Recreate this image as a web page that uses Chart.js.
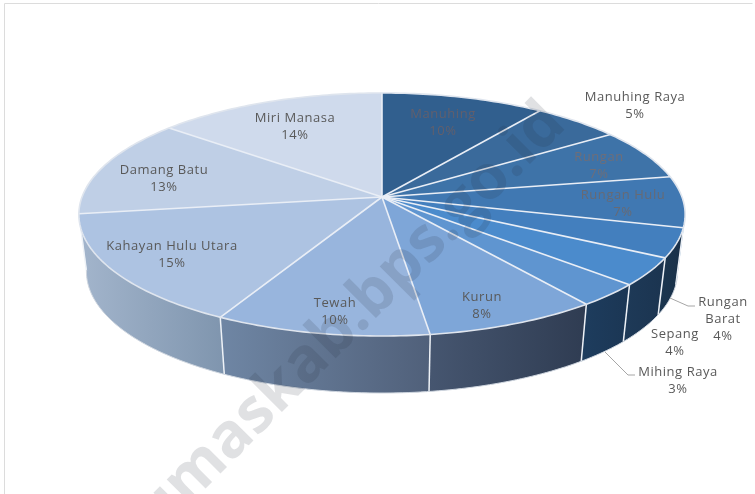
<!DOCTYPE html>
<html>
<head>
<meta charset="utf-8">
<script src="https://cdn.jsdelivr.net/npm/chart.js@4"></script>
<style>
  html, body { margin: 0; padding: 0; background: #fff; }
  canvas { display: block; }
</style>
</head>
<body>
<canvas id="chart" width="755" height="494"></canvas>
<script>
const categories = ["Manuhing", "Manuhing Raya", "Rungan", "Rungan Hulu", "Rungan Barat", "Sepang",
  "Mihing Raya", "Kurun", "Tewah", "Kahayan Hulu Utara", "Damang Batu", "Miri Manasa"];
const shares = [10, 5.4, 6.8, 6.8, 3.9, 3.7, 3.1, 8.1, 10, 15, 13.1, 14.1];

const topColors = ["#315f8e", "#3a6a9b", "#3e73a8", "#4078b2", "#437fbe", "#4b8bcc",
  "#5f95d0", "#7ea6d8", "#98b5dd", "#adc3e2", "#bfcfe6", "#cfdaec"];
const sideLeft = ["#315f8e", "#3a6a9b", "#3e73a8", "#4078b2", "#1b3650", "#1e3a58",
  "#1e3d5e", "#465670", "#6f86a4", "#a3b5cc", "#bfcfe6", "#cfdaec"];
const sideRight = ["#315f8e", "#3a6a9b", "#3e73a8", "#4078b2", "#1a3048", "#1b3450",
  "#1b3654", "#2f3c52", "#50607a", "#7f95ae", "#bfcfe6", "#cfdaec"];

// label text anchors, centre of the first line
const labelAnchors = [[443, 114], [635, 97], [599, 157], [623, 195], [723, 302], [675, 334],
  [678, 372], [482, 297], [335, 303], [172, 246], [164, 170], [295, 118]];
const labelColors = ["#625f6c", "#595959", "#6f6e78", "#676a74", "#595959", "#595959",
  "#595959", "#595959", "#595959", "#595959", "#595959", "#595959"];

// pie tilt: homography of the unit circle, apex sits above the ellipse centre
const cx = 382, cy = 197, bx = 300, by = 119, persp = 0.144;
const depth = 57, baseShrink = 0.975;

function project(a) {
  const w = 1 - persp * Math.sin(a);
  return [cx + bx * Math.cos(a) / w, cy + by * Math.sin(a) / w];
}
function base(p) {
  return [cx + (p[0] - cx) * baseShrink, p[1] + depth];
}

const pie3d = {
  id: "pie3d",
  beforeDatasetsDraw(chart) {
    const ctx = chart.ctx;
    const arcs = chart.getDatasetMeta(0).data;
    const step = Math.PI / 180;
    const sideFrom = 10.5 * step, sideTo = 173 * step;

    // side wall
    arcs.forEach((arc, i) => {
      const s = Math.max(arc.startAngle, sideFrom), e = Math.min(arc.endAngle, sideTo);
      if (e <= s) return;
      const pts = [];
      for (let a = s; a < e; a += step / 2) pts.push(project(a));
      pts.push(project(e));
      const low = pts.map(base).reverse();
      const xs = pts.concat(low).map((p) => p[0]);
      const g = ctx.createLinearGradient(Math.min(...xs), 0, Math.max(...xs), 0);
      g.addColorStop(0, sideLeft[i]);
      g.addColorStop(1, sideRight[i]);
      ctx.beginPath();
      pts.concat(low).forEach((p, k) => (k ? ctx.lineTo(p[0], p[1]) : ctx.moveTo(p[0], p[1])));
      ctx.closePath();
      ctx.fillStyle = g;
      ctx.fill();
    });
    // wall seams
    ctx.strokeStyle = "#eef2f7";
    ctx.lineWidth = 1.5;
    arcs.forEach((arc) => {
      const a = arc.endAngle;
      if (a <= sideFrom || a >= sideTo) return;
      const p = project(a), q = base(p);
      ctx.beginPath();
      ctx.moveTo(p[0], p[1]);
      ctx.lineTo(q[0], q[1]);
      ctx.stroke();
    });
    // bottom rim
    ctx.strokeStyle = "#cfd6df";
    ctx.lineWidth = 1;
    ctx.beginPath();
    for (let a = sideFrom; a <= sideTo; a += step) {
      const q = base(project(a));
      a === sideFrom ? ctx.moveTo(q[0], q[1]) : ctx.lineTo(q[0], q[1]);
    }
    ctx.stroke();

    // top face
    arcs.forEach((arc, i) => {
      ctx.beginPath();
      ctx.moveTo(cx, cy);
      for (let a = arc.startAngle; a < arc.endAngle; a += step / 2) {
        const p = project(a);
        ctx.lineTo(p[0], p[1]);
      }
      const end = project(arc.endAngle);
      ctx.lineTo(end[0], end[1]);
      ctx.closePath();
      ctx.fillStyle = topColors[i];
      ctx.fill();
    });
    // slice borders
    ctx.strokeStyle = "#e9eef6";
    ctx.lineWidth = 1.6;
    arcs.forEach((arc) => {
      const p = project(arc.endAngle);
      ctx.beginPath();
      ctx.moveTo(cx, cy);
      ctx.lineTo(p[0], p[1]);
      ctx.stroke();
    });
    ctx.strokeStyle = "#dfe5ee";
    ctx.beginPath();
    for (let a = 0; a <= Math.PI * 2 + step; a += step) {
      const p = project(a);
      a === 0 ? ctx.moveTo(p[0], p[1]) : ctx.lineTo(p[0], p[1]);
    }
    ctx.closePath();
    ctx.stroke();
    return false;
  },
  afterDraw(chart) {
    const ctx = chart.ctx;
    // leader lines
    ctx.strokeStyle = "#a6a6a6";
    ctx.lineWidth = 1;
    [[[670, 298], [688, 306], [695, 306]], [[605, 352], [628, 375], [635, 375]]].forEach((line) => {
      ctx.beginPath();
      line.forEach((p, k) => (k ? ctx.lineTo(p[0], p[1]) : ctx.moveTo(p[0], p[1])));
      ctx.stroke();
    });
    // watermark
    ctx.save();
    ctx.translate(172, 522);
    ctx.rotate(-Math.PI / 4);
    ctx.textAlign = "left";
    ctx.textBaseline = "alphabetic";
    ctx.font = 'bold 62px "Open Sans"';
    ctx.fillStyle = "rgba(35,40,55,0.14)";
    ctx.fillText("humaskab.bps.go.id", -60, 0);
    ctx.restore();
    // labels
    ctx.textAlign = "center";
    ctx.textBaseline = "middle";
    ctx.font = '13px "Open Sans"';
    ctx.letterSpacing = "0.55px";
    categories.forEach((name, i) => {
      const [x, y] = labelAnchors[i];
      const pct = Math.round(shares[i]) + "%";
      ctx.fillStyle = labelColors[i];
      if (name === "Rungan Barat") {
        ctx.fillText("Rungan", x, y);
        ctx.fillText("Barat", x, y + 17);
        ctx.fillText(pct, x, y + 34);
      } else {
        ctx.fillText(name, x, y);
        ctx.fillText(pct, x, y + 17);
      }
    });
    ctx.letterSpacing = "0px";
    // picture frame
    ctx.strokeStyle = "#dcdcdc";
    ctx.lineWidth = 1;
    ctx.beginPath();
    ctx.moveTo(4.5, 494);
    ctx.lineTo(4.5, 3.5);
    ctx.lineTo(752.5, 3.5);
    ctx.stroke();
  }
};

new Chart(document.getElementById("chart"), {
  type: "pie",
  data: {
    labels: categories,
    datasets: [{ data: shares, backgroundColor: topColors }]
  },
  options: {
    responsive: false,
    animation: false,
    plugins: { legend: { display: false }, tooltip: { enabled: false } }
  },
  plugins: [pie3d]
});
</script>
</body>
</html>
